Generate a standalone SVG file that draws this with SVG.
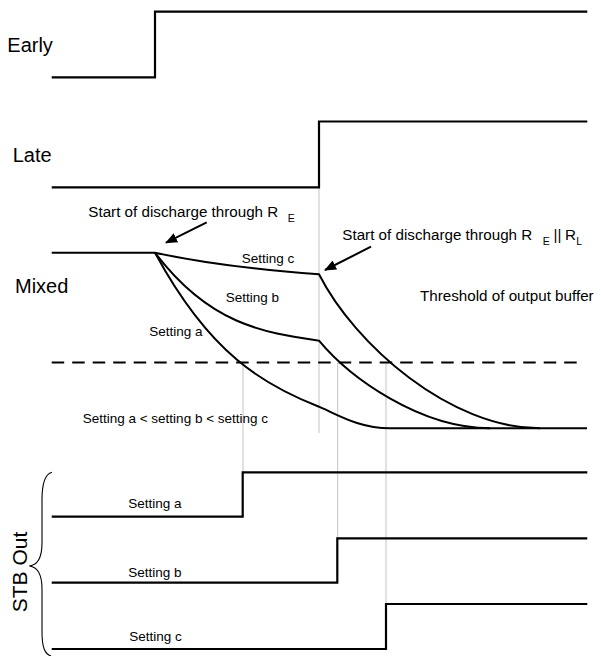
<svg xmlns="http://www.w3.org/2000/svg" width="601" height="656" viewBox="0 0 601 656">
<defs>
<style>
.sig{fill:none;stroke:#000;stroke-width:2.2;stroke-linejoin:miter}
.crv{fill:none;stroke:#000;stroke-width:2;stroke-linejoin:round}
.guide{fill:none;stroke:#c4c4c4;stroke-width:1}
.big{font-family:"Liberation Sans",Arial,sans-serif;font-size:20px;fill:#000}
.mid{font-family:"Liberation Sans",Arial,sans-serif;font-size:15.2px;fill:#000}
.sub{font-family:"Liberation Sans",Arial,sans-serif;font-size:10.5px;fill:#000}
.sm{font-family:"Liberation Sans",Arial,sans-serif;font-size:13.5px;fill:#000}
.arr{fill:none;stroke:#000;stroke-width:2}
</style>
<marker id="ah" viewBox="0 0 12 10" refX="11" refY="5" markerWidth="12" markerHeight="10" markerUnits="userSpaceOnUse" orient="auto">
<path d="M0,0 L12,5 L0,10 z" fill="#000"/>
</marker>
</defs>
<g id="connectors">
<path class="guide" d="M319,187 V433"/>
<path class="guide" d="M243,362.5 V472"/>
<path class="guide" d="M337.7,362.5 V538"/>
<path class="guide" d="M386,362.5 V604"/>
<line class="arr" x1="206.7" y1="222.3" x2="166" y2="242.7" marker-end="url(#ah)"/>
<line class="arr" x1="371" y1="246.7" x2="325" y2="270" marker-end="url(#ah)"/>
</g>
<g id="early">
<text class="big" x="7.3" y="52.3">Early</text>
<path class="sig" d="M51.7,77.3 H155 V11.7 H587.3"/>
</g>
<g id="late">
<text class="big" x="12.7" y="162.3">Late</text>
<path class="sig" d="M51.7,187.3 H319 V121.5 H587.3"/>
</g>
<g id="mixed">
<text class="big" x="15" y="292.7">Mixed</text>
<path class="crv" d="M51.7,252.7 H155"/>
<path class="crv" d="M155,252.7 C209.7,264.6 264.3,270.3 319,274.3 C355,345 450,428.3 540,428.3"/>
<path class="crv" d="M155,252.7 C209.7,325 264.3,332.6 319,340.7 C350,378 420,428.3 490,428.3"/>
<path class="crv" d="M155,252.7 C209.7,354.3 264.3,385.4 319,406.7 C340,416 360,428.3 390,428.3 H587"/>
<path class="crv" d="M51.7,362.5 H577.3" stroke-dasharray="12.5 8"/>
<text class="sm" x="241.7" y="263.3">Setting c</text>
<text class="sm" x="225.7" y="302.3">Setting b</text>
<text class="sm" x="149.3" y="336">Setting a</text>
<text class="sm" x="82.7" y="423.3">Setting a &lt; setting b &lt; setting c</text>
</g>
<g id="label-re">
<text class="mid" x="88.3" y="216.7">Start of discharge through R</text>
<text class="sub" x="287.7" y="222.3">E</text>
</g>
<g id="label-rerl">
<text class="mid" x="342.3" y="240">Start of discharge through R</text>
<text class="sub" x="542.7" y="245">E</text>
<text class="mid" x="553.5" y="240">||</text>
<text class="mid" x="565" y="240">R</text>
<text class="sub" x="576.2" y="245">L</text>
</g>
<g id="threshold">
<text class="mid" x="420" y="301">Threshold of output buffer</text>
</g>
<g id="stb-out">
<path fill="none" stroke="#000" stroke-width="1.1" d="M52,472.3 C45,474 42,484 42,500 L42,543 C42,558 38,565 29.3,566 C38,567 42,574 42,589 L42,632 C42,648 45,654 51,656"/>
<text class="big" transform="translate(26.7,612.3) rotate(-90)" style="font-size:21px">STB Out</text>
</g>
<g id="stb-a">
<text class="sm" x="128.3" y="507.7">Setting a</text>
<path class="sig" d="M51.7,516.7 H242.7 V472.3 H587.3"/>
</g>
<g id="stb-b">
<text class="sm" x="128.3" y="576.7">Setting b</text>
<path class="sig" d="M51.7,582.7 H337.3 V538.3 H587.3"/>
</g>
<g id="stb-c">
<text class="sm" x="129.3" y="641">Setting c</text>
<path class="sig" d="M51.7,649 H386 V604 H587.3"/>
</g>
</svg>
